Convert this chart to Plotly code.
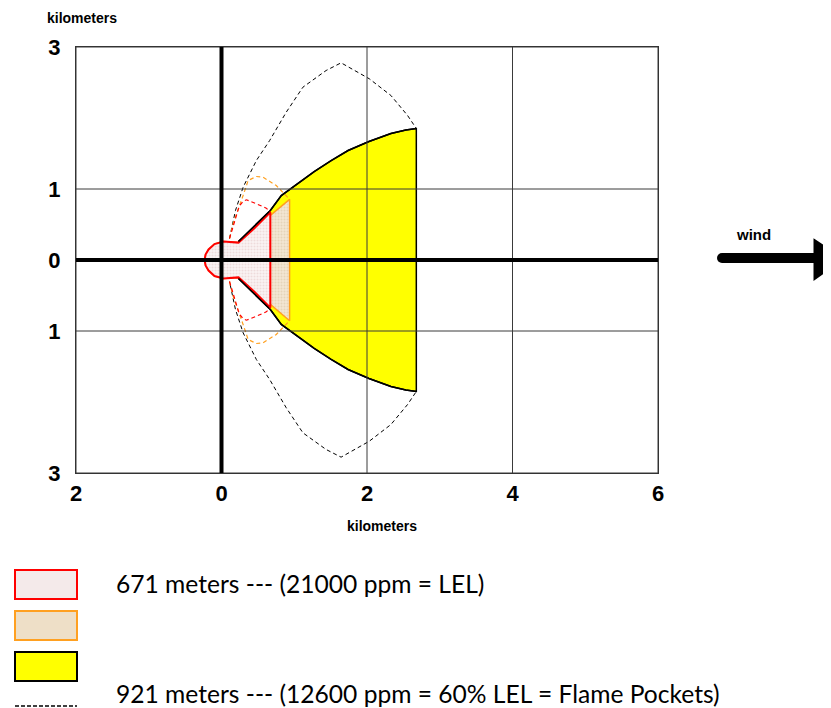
import plotly.graph_objects as go

# ---------------- data (kilometers), upper half of each symmetric zone ----------------
bump_x = [-0.233, -0.219, -0.178, -0.096, 0.027]
bump_y = [0.0, 0.077, 0.148, 0.225, 0.261]

red_edge_x = [0.233, 0.452, 0.671]
red_edge_y = [0.245, 0.448, 0.672]

orange_edge_x = [0.233, 0.452, 0.671, 0.822, 0.936]
orange_edge_y = [0.245, 0.440, 0.625, 0.752, 0.855]

yellow_x = [0.233, 0.452, 0.671, 0.822, 1.027, 1.274, 1.507, 1.740, 2.027, 2.329, 2.534, 2.678]
yellow_y = [0.261, 0.479, 0.697, 0.908, 1.063, 1.246, 1.401, 1.542, 1.669, 1.782, 1.831, 1.852]

conf_x = [0.110, 0.192, 0.297, 0.479, 0.662, 0.890, 1.119, 1.438, 1.644, 2.032, 2.329, 2.558, 2.678]
conf_y = [0.303, 0.697, 1.025, 1.401, 1.683, 2.082, 2.434, 2.669, 2.777, 2.552, 2.317, 2.035, 1.852]

red_conf_x = [0.110, 0.182, 0.242, 0.297, 0.342, 0.479, 0.616, 0.671]
red_conf_y = [0.303, 0.556, 0.754, 0.828, 0.848, 0.792, 0.730, 0.672]

orange_conf_x = [0.110, 0.160, 0.297, 0.366, 0.479, 0.571, 0.753, 0.914, 0.936]
orange_conf_y = [0.303, 0.510, 0.908, 1.120, 1.176, 1.166, 1.049, 0.875, 0.855]

x_ticks = [-2, 0, 2, 4, 6]
x_ticktext = ["2", "0", "2", "4", "6"]
y_ticks = [-3, -1, 0, 1, 3]
y_ticktext = ["3", "1", "0", "1", "3"]

legend_text_red = "671 meters --- (21000 ppm = LEL)"
legend_text_conf = "921 meters --- (12600 ppm = 60% LEL = Flame Pockets)"
axis_title = "kilometers"
wind_label = "wind"


def mirror_closed(xs, ys):
    return xs + xs[::-1], ys + [-v for v in ys[::-1]]


def mirror_open(xs, ys):
    return xs + [None] + xs, ys + [None] + [-v for v in ys]


# ---------------- figure ----------------
PAGE_OFF = 8                      # default body margin of the html page
W, H = 831 - PAGE_OFF, 708 - PAGE_OFF
L, R, T, B = 76, 658, 47, 473     # plot area in page pixels


def px(v):
    return (v - L) / (R - L)


def py(v):
    return (B - v) / (B - T)


fig = go.Figure()

# black dashed confidence line
cx, cy = mirror_closed(conf_x, conf_y)
fig.add_trace(go.Scatter(x=cx, y=cy, mode="lines",
                         line=dict(color="black", width=1, dash="4px,3px"),
                         hoverinfo="skip"))

# yellow zone
yx, yy = mirror_closed(yellow_x, yellow_y)
fig.add_trace(go.Scatter(x=yx, y=yy, mode="lines", fill="toself",
                         fillcolor="#FFFF00",
                         line=dict(color="black", width=1.5),
                         hoverinfo="skip"))

# orange zone
ox, oy = mirror_closed(bump_x + orange_edge_x, bump_y + orange_edge_y)
fig.add_trace(go.Scatter(x=ox, y=oy, mode="lines", fill="toself",
                         fillcolor="#EEDFC7",
                         fillpattern=dict(shape=".", bgcolor="#F2E6D2", fgcolor="#D8C2A0",
                                          size=3, solidity=0.35),
                         line=dict(color="#FFA020", width=1.5),
                         hoverinfo="skip"))

# orange dashed
odx, ody = mirror_open(orange_conf_x, orange_conf_y)
fig.add_trace(go.Scatter(x=odx, y=ody, mode="lines",
                         line=dict(color="#FFA020", width=1.2, dash="4px,3px"),
                         hoverinfo="skip"))

# red zone
rx, ry = mirror_closed(bump_x + red_edge_x, bump_y + red_edge_y)
fig.add_trace(go.Scatter(x=rx, y=ry, mode="lines", fill="toself",
                         fillcolor="#F6ECEC",
                         fillpattern=dict(shape=".", bgcolor="#FAF3F3", fgcolor="#E2C4C4",
                                          size=3, solidity=0.35),
                         line=dict(color="#FF0000", width=2),
                         hoverinfo="skip"))

# yellow boundary curve visible above the inner zones
ybx, yby = mirror_open(yellow_x, yellow_y)
fig.add_trace(go.Scatter(x=ybx, y=yby, mode="lines",
                         line=dict(color="black", width=1.5), hoverinfo="skip"))

# red dashed
rdx, rdy = mirror_open(red_conf_x, red_conf_y)
fig.add_trace(go.Scatter(x=rdx, y=rdy, mode="lines",
                         line=dict(color="#FF0000", width=1.2, dash="4px,3px"),
                         hoverinfo="skip"))

shapes = []
# grid lines drawn above the zones
for xv in x_ticks:
    shapes.append(dict(type="line", xref="x", yref="y", x0=xv, x1=xv,
                       y0=y_ticks[0], y1=y_ticks[-1], layer="above",
                       line=dict(color="#3a3a3a", width=1)))
for yv in y_ticks:
    shapes.append(dict(type="line", xref="x", yref="y", y0=yv, y1=yv,
                       x0=x_ticks[0], x1=x_ticks[-1], layer="above",
                       line=dict(color="#3a3a3a", width=1)))
# thick axes through the origin
shapes.append(dict(type="line", xref="x", yref="y", x0=x_ticks[0], x1=x_ticks[-1],
                   y0=0, y1=0, layer="above", line=dict(color="black", width=4)))
shapes.append(dict(type="line", xref="x", yref="y", x0=0, x1=0,
                   y0=y_ticks[0], y1=y_ticks[-1], layer="above", line=dict(color="black", width=4)))

# wind arrow
shapes.append(dict(type="line", xref="paper", yref="paper", x0=px(722), x1=px(818),
                   y0=py(258), y1=py(258), line=dict(color="black", width=10)))
shapes.append(dict(type="circle", xref="paper", yref="paper", x0=px(717), x1=px(727),
                   y0=py(253), y1=py(263), fillcolor="black", line=dict(width=0)))
shapes.append(dict(type="path", xref="paper", yref="paper",
                   path=f"M {px(815)},{py(241)} L {px(842)},{py(259)} L {px(815)},{py(278)} Z",
                   fillcolor="black", line=dict(color="black", width=3)))

# legend boxes
shapes.append(dict(type="rect", xref="paper", yref="paper", x0=px(15), x1=px(77),
                   y0=py(570), y1=py(599), fillcolor="#F4EAEA", line=dict(color="#FF0000", width=2)))
shapes.append(dict(type="rect", xref="paper", yref="paper", x0=px(15), x1=px(77),
                   y0=py(611), y1=py(640), fillcolor="#EEDFC7", line=dict(color="#FFA020", width=2)))
shapes.append(dict(type="rect", xref="paper", yref="paper", x0=px(15), x1=px(77),
                   y0=py(652), y1=py(681), fillcolor="#FFFF00", line=dict(color="black", width=2)))
shapes.append(dict(type="line", xref="paper", yref="paper", x0=px(15), x1=px(77),
                   y0=py(706), y1=py(706), line=dict(color="black", width=1.5, dash="4px,2px")))

narrow = "Liberation Sans Narrow, Arial Narrow, Liberation Sans, Arial"
annotations = [
    dict(text=axis_title, xref="paper", yref="paper", x=px(82), y=py(18),
         showarrow=False, xanchor="center", yanchor="middle",
         font=dict(family=narrow, size=14, color="black", weight="bold")),
    dict(text=axis_title, xref="paper", yref="paper", x=px(382), y=py(526),
         showarrow=False, xanchor="center", yanchor="middle",
         font=dict(family=narrow, size=14, color="black", weight="bold")),
    dict(text=wind_label, xref="paper", yref="paper", x=px(753), y=py(234),
         showarrow=False, xanchor="center", yanchor="middle",
         font=dict(family=narrow, size=15, color="black", weight="bold")),
    dict(text=legend_text_red, xref="paper", yref="paper", x=px(114), y=py(583),
         showarrow=False, xanchor="left", yanchor="middle",
         font=dict(family="Lato, Open Sans, sans-serif", size=24.6, color="black")),
    dict(text=legend_text_conf, xref="paper", yref="paper", x=px(114), y=py(693),
         showarrow=False, xanchor="left", yanchor="middle",
         font=dict(family="Lato, Open Sans, sans-serif", size=24.6, color="black")),
]

tickfont = dict(family="Liberation Sans, Arial", size=22, color="black", weight="bold")
fig.update_layout(
    width=W, height=H, autosize=False,
    margin=dict(l=L - PAGE_OFF, r=W - (R - PAGE_OFF), t=T - PAGE_OFF,
                b=H - (B - PAGE_OFF), pad=0),
    paper_bgcolor="white", plot_bgcolor="white",
    showlegend=False,
    shapes=shapes, annotations=annotations,
    xaxis=dict(range=[x_ticks[0], x_ticks[-1]], tickmode="array", tickvals=x_ticks,
               ticktext=x_ticktext, showgrid=False, zeroline=False, showline=True,
               mirror=True, linecolor="#333", linewidth=1, ticks="",
               ticklabelstandoff=1, tickfont=tickfont, fixedrange=True),
    yaxis=dict(range=[y_ticks[0], y_ticks[-1]], tickmode="array", tickvals=y_ticks,
               ticktext=y_ticktext, showgrid=False, zeroline=False, showline=True,
               mirror=True, linecolor="#333", linewidth=1, ticks="",
               ticklabelstandoff=10, tickfont=tickfont, fixedrange=True),
)

fig.write_html("out.html")
